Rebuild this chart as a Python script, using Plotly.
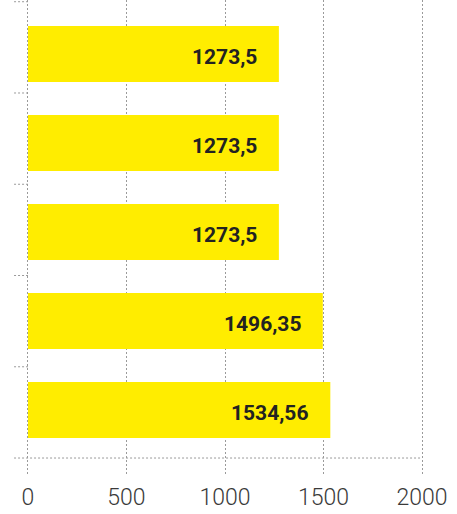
import plotly.graph_objects as go

# Data (top to bottom)
categories = ["A", "B", "C", "D", "E"]
values = [1273.5, 1273.5, 1273.5, 1496.35, 1534.56]
labels = ["1273,5", "1273,5", "1273,5", "1496,35", "1534,56"]
x_ticks = [0, 500, 1000, 1500, 2000]

GRID = "#9a9a9a"
DASH = "2px,2px"

fig = go.Figure()
fig.add_trace(go.Bar(
    y=categories, x=values, orientation="h",
    marker=dict(color="#FFED00", line=dict(width=0)),
    hoverinfo="skip",
))

for c, v, t in zip(categories, values, labels):
    fig.add_annotation(x=v, y=c, text=t, showarrow=False, xanchor="right",
                       xshift=-20, yshift=-3,
                       font=dict(family="Roboto", size=21, color="#222222", weight="bold"))

# boundary ticks on the left (decorative), using a helper numeric axis
y2_range = [-0.186, 5.019]
for i in range(len(categories) + 1):
    fig.add_shape(type="line", xref="paper", yref="y2",
                  x0=-0.03, x1=0.995 if i == 0 else 0.005, y0=i, y1=i,
                  line=dict(color=GRID, width=1, dash=DASH))

fig.update_layout(
    width=457, height=514,
    margin=dict(l=26, r=33, t=0, b=39, autoexpand=False),
    plot_bgcolor="white", paper_bgcolor="white",
    bargap=0.37,
    showlegend=False,
    xaxis=dict(range=[-10, 2010], tickvals=x_ticks, showgrid=True, gridcolor=GRID,
               griddash=DASH, gridwidth=1, zeroline=False, showline=False,
               tickfont=dict(family="Roboto", size=23, color="#3a3a3a", weight=300),
               ticklabelstandoff=6,
               ticks="", fixedrange=True, automargin=False),
    yaxis=dict(range=[4.730, -0.607], showticklabels=False, showgrid=False,
               zeroline=False, ticks="", fixedrange=True, automargin=False),
    yaxis2=dict(range=y2_range, overlaying="y", showticklabels=False, showgrid=False,
                zeroline=False, ticks="", visible=False, automargin=False),
)

fig.write_html("out.html", config={"displayModeBar": False},
               post_script="document.body.style.margin='0';document.body.style.overflow='hidden';")
